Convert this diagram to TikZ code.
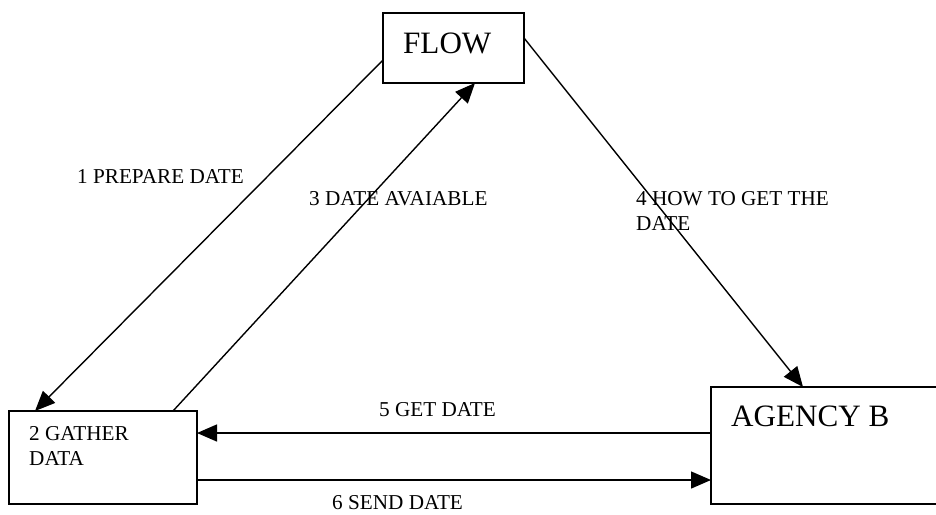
\documentclass[tikz,border=0pt]{standalone}
\usepackage{fontspec}
\setmainfont{Liberation Serif}
\usetikzlibrary{arrows.meta,calc}
\tikzset{
  boxnode/.style={draw, line width=1.7pt, outer sep=0pt, inner sep=0pt, anchor=north west},
  bigtext/.style={inner sep=0pt, anchor=base west, font=\fontsize{31.1}{36}\selectfont},
  smalltext/.style={inner sep=0pt, anchor=base west, font=\fontsize{21.2}{25}\selectfont},
  smallblock/.style={inner sep=0pt, anchor=north west, align=left, font=\fontsize{21.2}{24.8}\selectfont},
  conn/.style={line width=1.4pt, -{Triangle[length=20pt,width=17pt]}}
}
\begin{document}
\begin{tikzpicture}[x=1pt,y=-1pt]
\useasboundingbox (0,0) rectangle (936,514);
\fill[white] (0,0) rectangle (936,514);
% boxes
\node[boxnode, minimum width=141pt, minimum height=70pt] (flow) at (383,13) {};
\node[boxnode, minimum width=188pt, minimum height=93pt] (gather) at (9,411) {};
\node[boxnode, minimum width=229pt, minimum height=117pt] (agency) at (711,387) {};
% box texts
\node[bigtext] (flowtxt) at (403,53) {FLOW};
\node[smallblock] (gathertxt) at (29,426) {2 GATHER\\DATA};
\node[bigtext] (agencytxt) at (731,426) {AGENCY B};
% connectors
\coordinate (p5) at ([yshift=-46pt]agency.north west);
\coordinate (p6) at ([yshift=-93pt]agency.north west);
\draw[conn] ([yshift=-12pt]flow.west) -- ([xshift=26pt]gather.north west);
\draw[conn] ([xshift=164pt]gather.north west) -- ([xshift=21.5pt]flow.south);
\draw[conn] ([yshift=-25pt]flow.north east) -- ([xshift=92pt]agency.north west);
\draw[conn] (p5) -- (gather.east |- p5);
\draw[conn] (gather.east |- p6) -- (p6);
% labels
\node[smalltext] (l1) at (77,183) {1 PREPARE DATE};
\node[smalltext] (l3) at (309,205) {3 DATE AVAIABLE};
\node[smallblock] (l4) at (636,191) {4 HOW TO GET THE\\DATE};
\node[smalltext] (l5) at (379,416) {5 GET DATE};
\node[smalltext] (l6) at (332,509) {6 SEND DATE};
\end{tikzpicture}
\end{document}
